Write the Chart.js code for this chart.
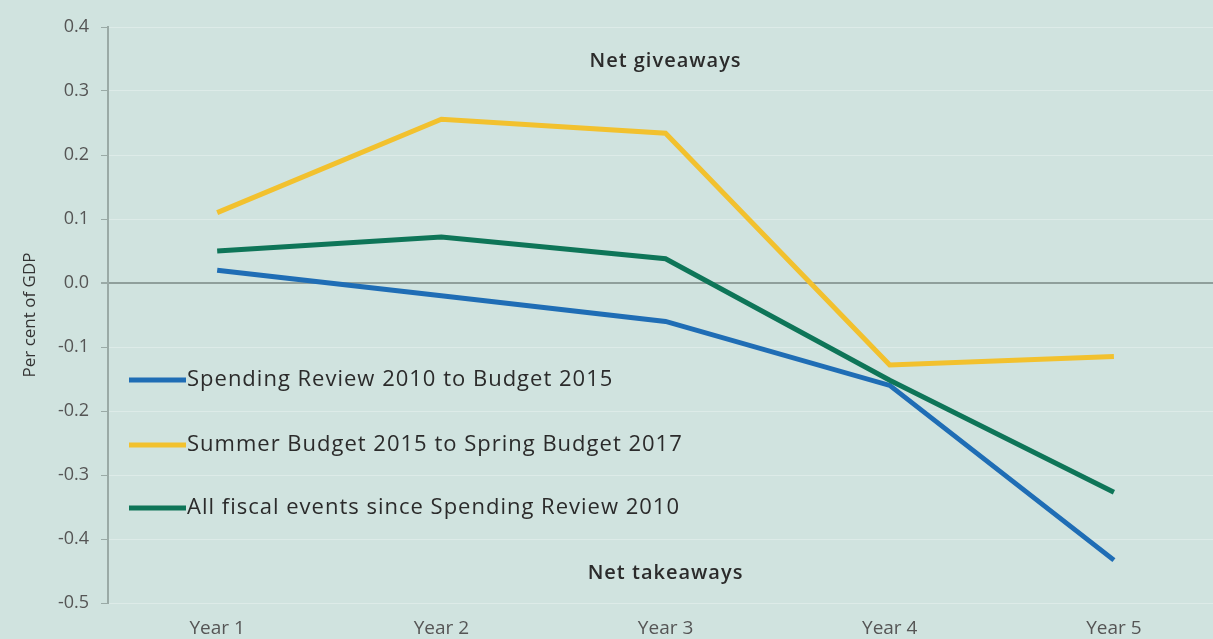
<!DOCTYPE html>
<html>
<head>
<meta charset="utf-8">
<script src="https://cdn.jsdelivr.net/npm/chart.js@4.4.1/dist/chart.umd.min.js"></script>
<style>
  html, body { margin: 0; padding: 0; background: #d0e3df; }
  #wrap { width: 1213px; height: 639px; position: relative; }
</style>
</head>
<body>
<div id="wrap"><canvas id="c" width="1213" height="639"></canvas></div>
<script>
const categories = ['Year 1', 'Year 2', 'Year 3', 'Year 4', 'Year 5'];
const seriesNames = [
  'Spending Review 2010 to Budget 2015',
  'Summer Budget 2015 to Spring Budget 2017',
  'All fiscal events since Spending Review 2010'
];
const spendingReview = [0.02, -0.02, -0.06, -0.16, -0.433];
const summerBudget = [0.11, 0.256, 0.234, -0.128, -0.115];
const allEvents = [0.05, 0.072, 0.038, -0.152, -0.327];
const seriesColors = ['#1f6db5', '#f2c12e', '#0e7558'];
const yTickValues = [0.4, 0.3, 0.2, 0.1, 0.0, -0.1, -0.2, -0.3, -0.4, -0.5];
const annotations = [
  { text: 'Net giveaways', x: 3, y: 0.347 },
  { text: 'Net takeaways', x: 3, y: -0.453 }
];

const FONT = "'Open Sans', 'DejaVu Sans', sans-serif";

function toPoints(arr) { return arr.map((v, i) => ({ x: i + 1, y: v })); }

const datasets = [spendingReview, summerBudget, allEvents].map((arr, i) => ({
  label: seriesNames[i],
  data: toPoints(arr),
  borderColor: seriesColors[i],
  backgroundColor: seriesColors[i],
  borderWidth: 5,
  pointRadius: 0,
  tension: 0,
  fill: false,
  order: i === 1 ? 2 : (i === 0 ? 1 : 0)
}));

const bgPlugin = {
  id: 'bg',
  beforeDraw(chart) {
    const ctx = chart.ctx;
    ctx.save();
    ctx.fillStyle = '#d0e3df';
    ctx.fillRect(0, 0, chart.width, chart.height);
    ctx.restore();
  }
};

const overlayPlugin = {
  id: 'overlay',
  afterDraw(chart) {
    const ctx = chart.ctx;
    const xs = chart.scales.x, ys = chart.scales.y;
    ctx.save();
    ctx.fillStyle = '#2b2b2b';
    ctx.font = "600 20px " + FONT;
    ctx.letterSpacing = '1px';
    ctx.textAlign = 'center';
    ctx.textBaseline = 'middle';
    annotations.forEach(a => {
      ctx.fillText(a.text, xs.getPixelForValue(a.x), ys.getPixelForValue(a.y));
    });
    const rows = [380, 445, 508];
    ctx.textAlign = 'left';
    ctx.font = "22px " + FONT;
    ctx.letterSpacing = '1px';
    chart.data.datasets.forEach((ds, i) => {
      const y = rows[i];
      ctx.strokeStyle = ds.borderColor;
      ctx.lineWidth = 5;
      ctx.lineCap = 'butt';
      ctx.beginPath();
      ctx.moveTo(129, y);
      ctx.lineTo(186, y);
      ctx.stroke();
      ctx.fillStyle = '#2b2b2b';
      ctx.fillText(ds.label, 187, y);
    });
    ctx.letterSpacing = '0px';
    ctx.restore();
  }
};

new Chart(document.getElementById('c'), {
  type: 'line',
  data: { datasets },
  plugins: [bgPlugin, overlayPlugin],
  options: {
    responsive: false,
    animation: false,
    layout: { padding: { top: 27, left: 0, right: 0, bottom: 0 } },
    plugins: { legend: { display: false }, tooltip: { enabled: false } },
    scales: {
      x: {
        type: 'linear',
        min: 0.513,
        max: 5.442,
        afterBuildTicks(scale) { scale.ticks = categories.map((c, i) => ({ value: i + 1 })); },
        afterFit(scale) { scale.height = 36; },
        grid: { display: false, drawTicks: false },
        border: { display: false },
        ticks: {
          callback: (v) => categories[Math.round(v) - 1] || '',
          color: '#555',
          font: { family: FONT, size: 19 },
          padding: 14,
          maxRotation: 0,
          autoSkip: false
        }
      },
      y: {
        min: -0.5,
        max: 0.4,
        afterBuildTicks(scale) { scale.ticks = yTickValues.map(v => ({ value: v })); },
        afterFit(scale) { scale.width = 108; },
        grid: {
          color: (c) => (c.tick && Math.abs(c.tick.value) < 1e-9) ? '#8f9f9b' : 'rgba(255,255,255,0.28)',
          lineWidth: (c) => (c.tick && Math.abs(c.tick.value) < 1e-9) ? 2 : 1,
          tickColor: '#9aaaa6',
          tickLength: 7,
          drawTicks: true
        },
        border: { display: true, color: '#9aaaa6', width: 2 },
        ticks: {
          callback: (v) => (Math.abs(v) < 1e-9 ? 0 : v).toFixed(1),
          color: '#555',
          font: { family: FONT, size: 18 },
          padding: 12
        },
        title: {
          display: true,
          text: 'Per cent of GDP',
          color: '#333',
          font: { family: FONT, size: 17 },
          padding: { top: 20, bottom: 0 }
        }
      }
    }
  }
});
</script>
</body>
</html>
